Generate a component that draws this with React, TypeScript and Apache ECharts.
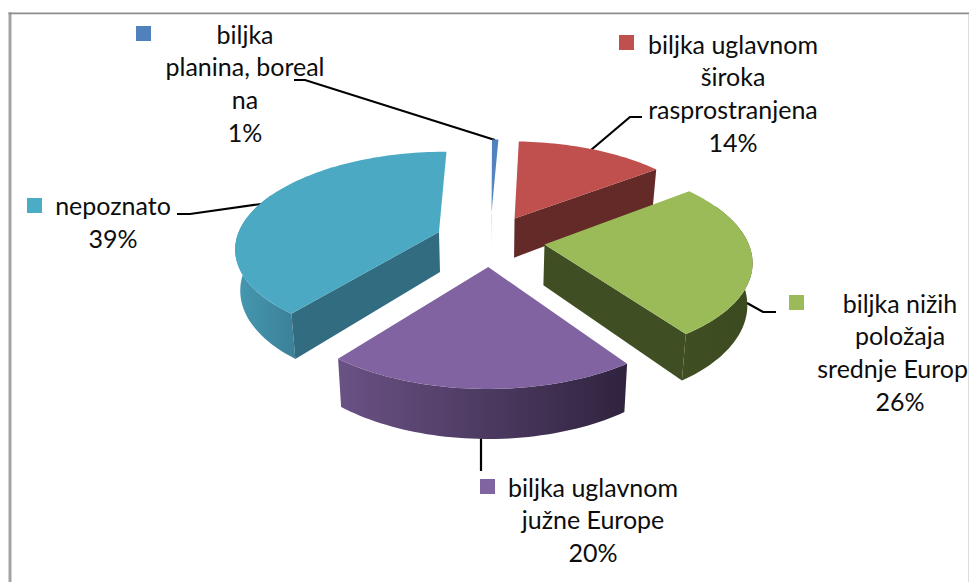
import React, { useEffect, useRef } from "react";
import * as echarts from "echarts";

// ---- data ----
const categories = [
  "biljka planina, boreal na",
  "biljka uglavnom široka rasprostranjena",
  "biljka nižih položaja srednje Europ",
  "biljka uglavnom južne Europe",
  "nepoznato",
];
const values = [0.6, 14, 25.6, 20.4, 39.4];
const labelLines = [
  ["biljka", "planina, boreal", "na"],
  ["biljka uglavnom", "široka", "rasprostranjena"],
  ["biljka nižih", "položaja", "srednje Europ"],
  ["biljka uglavnom", "južne Europe"],
  ["nepoznato"],
];

// ---- styles ----
const topColors = ["#4F81BD", "#C0504D", "#9BBB59", "#8063A0", "#4BA9C3"];
const keyColors = ["#4F81BD", "#C0504D", "#9BBB59", "#8064A2", "#4BACC6"];
const radialColors = ["#4F81BD", "#642A28", "#404E23", "#4A3A5E", "#316C80"];
const outerLeft = ["#4F81BD", "#642A28", "#404E23", "#6A5285", "#4698B1"];
const outerRight = ["#4F81BD", "#642A28", "#3C4A20", "#30233E", "#3B8198"];

// ---- layout ----
const CX = 490;
const CY = 240.4;
const RX = 203;
const RY = 94.7;
const PERSPECTIVE = 0.15;
const EXPLODE = 0.27;
const DEPTH = 40.5;
const BOTTOM_SCALE = 0.98;
const START_DEG = 0.3;
const LINE_H = 32.7;
const FONT = "Lato, Carlito, Calibri, sans-serif";
const FONT_SIZE = 25;

const labelCenters = [245, 733, 900, 593, 113];
const labelFirstY = [33.5, 43.5, 302.5, 486.5, 205];
const keyPos = [
  [136, 26],
  [619, 35],
  [789, 295],
  [480, 479],
  [27, 198],
];
const leaders = [
  [[294, 80], [305, 80], [495, 140]],
  [[591, 150], [630, 117], [642, 117]],
  [[747, 303], [763, 312], [776, 312]],
  [[481, 437], [481, 471]],
  [[177, 214], [190, 214], [261, 204]],
];

const total = values.reduce((a, b) => a + b, 0);
const D2R = Math.PI / 180;

function project(x: number, y: number, bottom: boolean): number[] {
  const s = 1 / (1 + PERSPECTIVE * y);
  let X = CX + RX * x * s;
  let Y = CY - RY * y * s;
  if (bottom) {
    X = CX + (X - CX) * BOTTOM_SCALE;
    Y += DEPTH * s;
  }
  return [X, Y];
}

function sliceRanges() {
  let a = START_DEG;
  return values.map((v) => {
    const from = a;
    a += (v / total) * 360;
    return [from, a];
  });
}

function arc(ox: number, oy: number, a0: number, a1: number, bottom: boolean) {
  const n = Math.max(2, Math.ceil(Math.abs(a1 - a0) / 1.5));
  const pts: number[][] = [];
  for (let i = 0; i <= n; i++) {
    const t = (a0 + ((a1 - a0) * i) / n) * D2R;
    pts.push(project(ox + Math.sin(t), oy + Math.cos(t), bottom));
  }
  return pts;
}

function renderSlice(params: any, api: any) {
  const i = params.dataIndex;
  const [a0, a1] = sliceRanges()[i];
  const mid = ((a0 + a1) / 2) * D2R;
  const ox = EXPLODE * Math.sin(mid);
  const oy = EXPLODE * Math.cos(mid);
  const children: any[] = [];
  const poly = (points: number[][], fill: any) =>
    children.push({ type: "polygon", shape: { points }, style: { fill } });
  const rim = (a: number, bottom: boolean) =>
    project(ox + Math.sin(a * D2R), oy + Math.cos(a * D2R), bottom);

  if (api.value(0) < 1) {
    // the sliver: top and side together, fading out downward
    const pts = [...arc(ox, oy, a0, a1, false), project(ox, oy, false), project(ox, oy, true)];
    poly(
      pts,
      new echarts.graphic.LinearGradient(0, 0, 0, 1, [
        { offset: 0, color: "#4F81BD" },
        { offset: 0.7, color: "#5B8AC2" },
        { offset: 1, color: "#FFFFFF" },
      ])
    );
    return { type: "group", children };
  }

  // outer wall: where the rim faces the viewer; it runs on behind the top face
  const o0 = Math.max(a0, 65);
  const o1 = Math.min(a1, 295);
  if (o1 > o0 && a1 > 90) {
    const upper = arc(ox, oy, o0, o1, false);
    const lower = arc(ox, oy, o0, o1, true).reverse();
    poly(
      [...upper, ...lower],
      new echarts.graphic.LinearGradient(0, 0, 1, 0, [
        { offset: 0, color: outerLeft[i] },
        { offset: 1, color: outerRight[i] },
      ])
    );
  }
  // radial wall facing the viewer
  const a = Math.sin(a1 * D2R) > 0.05 ? a1 : Math.sin(a0 * D2R) < -0.05 ? a0 : null;
  if (a !== null) {
    poly(
      [project(ox, oy, false), rim(a, false), rim(a, true), project(ox, oy, true)],
      radialColors[i]
    );
  }
  // top face
  poly([project(ox, oy, false), ...arc(ox, oy, a0, a1, false)], topColors[i]);
  return { type: "group", children };
}

function buildGraphic() {
  const elements: any[] = [
    { type: "rect", shape: { x: 8.5, y: 12.5, width: 3, height: 570 }, style: { fill: "#A3A3A3" } },
    { type: "rect", shape: { x: 8.5, y: 12.5, width: 961, height: 1.7 }, style: { fill: "#8C8C8C" } },
    { type: "rect", shape: { x: 968, y: 14, width: 1, height: 568 }, style: { fill: "#DDDDDD" } },
  ];
  categories.forEach((_, i) => {
    elements.push({
      type: "rect",
      shape: { x: keyPos[i][0], y: keyPos[i][1], width: 15, height: 15 },
      style: { fill: keyColors[i] },
    });
    elements.push({
      type: "polyline",
      shape: { points: leaders[i] },
      style: { stroke: "#000000", lineWidth: 2.2, fill: "none" },
    });
    const lines = [...labelLines[i], `${Math.round(values[i])}%`];
    lines.forEach((text, j) => {
      const clipped = text === "srednje Europ";
      elements.push({
        type: "text",
        style: {
          text,
          x: clipped ? 968 : labelCenters[i],
          y: labelFirstY[i] + j * LINE_H,
          textAlign: clipped ? "right" : "center",
          textVerticalAlign: "middle",
          font: `${FONT_SIZE}px ${FONT}`,
          fill: "#0D0D0D",
        },
      });
    });
  });
  return elements;
}

export default function App() {
  const ref = useRef<HTMLDivElement>(null);
  useEffect(() => {
    document.body.style.margin = "0";
    const chart = echarts.init(ref.current!, null, { renderer: "svg" });
    chart.setOption({
      animation: false,
      backgroundColor: "#FFFFFF",
      series: [
        {
          type: "custom",
          coordinateSystem: "none",
          renderItem: renderSlice,
          data: values.map((v, i) => ({ name: categories[i], value: [v] })),
          silent: true,
        },
      ],
      graphic: { elements: buildGraphic() },
    });
    return () => chart.dispose();
  }, []);
  return <div ref={ref} style={{ width: 969, height: 582 }} />;
}
